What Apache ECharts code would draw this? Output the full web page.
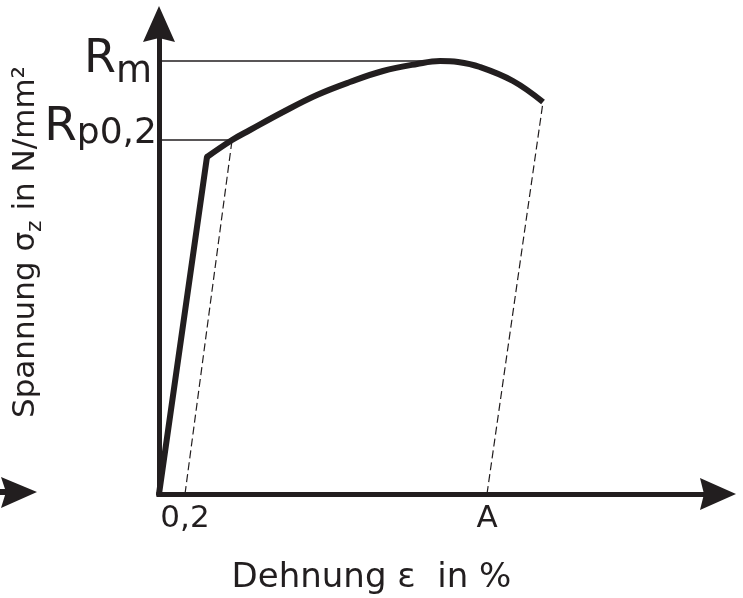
<!DOCTYPE html>
<html>
<head>
<meta charset="utf-8">
<script src="https://cdn.jsdelivr.net/npm/echarts@6/dist/echarts.min.js"></script>
<style>
html,body{margin:0;padding:0;background:#fff;}
#c{width:743px;height:598px;}
</style>
</head>
<body>
<div id="c"></div>
<script>
// ---- data (strain in %, stress in N/mm², schematic) ----
const elasticX = [0, 0.369];
const elasticY = [0, 337];
const plasticX = [0.369, 0.562, 0.700, 0.954, 1.215, 1.469, 1.723, 1.985, 2.162, 2.300, 2.469, 2.723, 2.954];
const plasticY = [337, 354, 364, 382, 399, 412, 423, 430, 433, 432, 427, 413, 392];
const Rp02 = 354;
const Rm = 433;
const RpStrain = 0.562;   // strain where curve reaches Rp0,2
const RmStrain = 2.2;     // end of Rm reference line
const offsetStrain = 0.2;
const breakStrain = 2.523; // A
const breakX = 2.954, breakY = 392;
const xTickValues = [0.2, 2.523];
const xTickLabels = ['0,2', 'A'];
const xMax = 4.3, yMax = 470;

const INK = '#221e1f';
const FONT = 'DejaVu Sans';
const arrowPath = 'path://M16,0L32,36L16,32L0,36Z';

const zip = (a, b) => a.map((v, i) => [v, b[i]]);

const chart = echarts.init(document.getElementById('c'), null, {renderer: 'canvas'});
chart.setOption({
  animation: false,
  backgroundColor: '#fff',
  grid: {left: 159, right: 25, top: 24, bottom: 104, containLabel: false, outerBoundsMode: 'none'},
  xAxis: {
    type: 'value', min: 0, max: xMax,
    axisLine: {show: true, onZero: false, symbol: ['none', arrowPath], symbolSize: [32, 36],
      lineStyle: {color: INK, width: 5, cap: 'square'}},
    axisTick: {show: false},
    splitLine: {show: false},
    axisLabel: {
      show: true, customValues: xTickValues, margin: 9,
      fontSize: 31, fontFamily: FONT, color: INK,
      formatter: v => {
        for (let i = 0; i < xTickValues.length; i++) if (Math.abs(v - xTickValues[i]) < 1e-6) return xTickLabels[i];
        return '';
      }
    },
    name: 'Dehnung ε  in %',
    nameLocation: 'middle', nameGap: 67,
    nameTextStyle: {fontSize: 34, fontFamily: FONT, color: INK, padding: [0, 134, 0, 0]}
  },
  yAxis: {
    type: 'value', min: 0, max: yMax,
    axisLine: {show: true, onZero: false, symbol: ['none', arrowPath], symbolSize: [32, 36],
      lineStyle: {color: INK, width: 5, cap: 'square'}},
    axisTick: {show: false},
    splitLine: {show: false},
    axisLabel: {show: false},
    name: 'Spannung σ{s|z} in N/mm²',
    nameLocation: 'middle', nameRotate: 90, nameGap: 113,
    nameTextStyle: {fontSize: 31, fontFamily: FONT, color: INK, lineHeight: 40, padding: [0, 0, 0, 34],
      rich: {s: {fontSize: 22, lineHeight: 22, fontFamily: FONT, color: INK, verticalAlign: 'bottom'}}}
  },
  series: [
    {
      name: 'Rm-Linie', type: 'line', symbol: 'circle', symbolSize: 0.1, itemStyle: {color: 'transparent'},
      lineStyle: {color: INK, width: 1.3}, z: 3,
      data: [
        {value: [0, Rm], label: {show: true, position: 'left', distance: 7, offset: [0, 11],
          formatter: '{r|R}{m|m}',
          rich: {
            r: {fontSize: 46, lineHeight: 46, fontFamily: FONT, color: INK, verticalAlign: 'top'},
            m: {fontSize: 37, lineHeight: 69, fontFamily: FONT, color: INK}
          }}},
        [RmStrain, Rm]
      ]
    },
    {
      name: 'Rp-Linie', type: 'line', symbol: 'circle', symbolSize: 0.1, itemStyle: {color: 'transparent'},
      lineStyle: {color: INK, width: 1.3}, z: 3,
      data: [
        {value: [0, Rp02], label: {show: true, position: 'left', distance: 2, offset: [0, -12],
          formatter: '{r|R}{p|p0,2}',
          rich: {
            r: {fontSize: 47, lineHeight: 47, fontFamily: FONT, color: INK},
            p: {fontSize: 36, lineHeight: 36, fontFamily: FONT, color: INK, verticalAlign: 'bottom'}
          }}},
        [RpStrain, Rp02]
      ]
    },
    {
      name: 'Offset 0,2', type: 'line', showSymbol: false, z: 3,
      lineStyle: {color: INK, width: 1.2, type: [8, 4]},
      data: [[offsetStrain, 0], [RpStrain, Rp02]]
    },
    {
      name: 'Bruch', type: 'line', showSymbol: false, z: 3,
      lineStyle: {color: INK, width: 1.2, type: [8, 4]},
      data: [[breakStrain, 0], [breakX, breakY]]
    },
    {
      name: 'elastisch', type: 'line', showSymbol: false, z: 4,
      lineStyle: {color: INK, width: 6, cap: 'round', join: 'miter'},
      data: zip(elasticX, elasticY)
    },
    {
      name: 'plastisch', type: 'line', showSymbol: false, smooth: 0.4, z: 4,
      lineStyle: {color: INK, width: 6, cap: 'butt', join: 'round'},
      data: zip(plasticX, plasticY)
    }
  ],
  graphic: [
    {type: 'rect', shape: {x: 0, y: 489, width: 8, height: 6}, style: {fill: INK}},
    {type: 'polygon', shape: {points: [[1, 477], [37, 492], [1, 508], [6, 492]]}, style: {fill: INK}}
  ]
});
</script>
</body>
</html>
